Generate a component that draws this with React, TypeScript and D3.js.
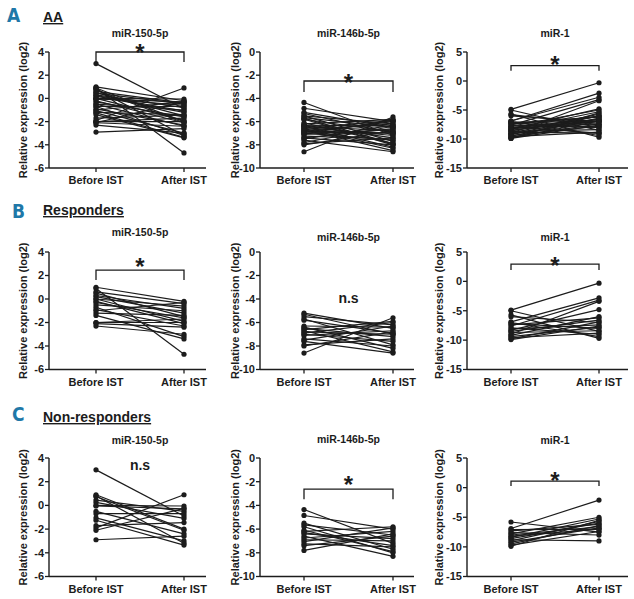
import React from "react";
import * as d3 from "d3";

const panelLetters = ["A", "B", "C"];
const groupNames = ["AA", "Responders", "Non-responders"];
const mirnaNames = ["miR-150-5p", "miR-146b-5p", "miR-1"];
const timepoints = ["Before IST", "After IST"];
const yAxisLabel = "Relative expression (log2)";

const ticks150 = [4, 2, 0, -2, -4, -6];
const ticks146b = [0, -2, -4, -6, -8, -10];
const ticksMir1 = [5, 0, -5, -10, -15];

// Responders
const resp150Before = [1.0, 0.9, 0.6, 0.5, 0.3, 0.2, 0.0, 0.0, -0.2, -0.3, -0.5, -0.7, -0.9, -1.0, -1.2, -1.4, -2.0, -2.0, -2.1, -2.3];
const resp150After = [-0.2, -4.7, -0.4, -1.5, -0.8, -1.2, -1.9, -0.6, -2.1, -1.6, -1.0, -3.2, -2.3, -0.3, -1.4, -3.4, -2.0, -1.7, -2.4, -3.0];
const resp146bBefore = [-5.2, -5.3, -5.5, -5.7, -5.8, -6.3, -6.4, -6.5, -6.6, -6.7, -6.9, -7.0, -7.1, -7.4, -7.5, -7.6, -7.9, -8.0, -8.6, -6.8];
const resp146bAfter = [-6.5, -7.0, -6.2, -7.9, -6.9, -6.4, -8.2, -7.2, -5.9, -8.5, -6.0, -7.6, -6.7, -8.0, -6.3, -8.6, -7.4, -6.8, -5.6, -7.0];
const respMir1Before = [-4.9, -5.0, -5.7, -6.0, -6.9, -7.2, -7.4, -7.6, -7.9, -8.1, -8.3, -8.5, -8.7, -9.0, -9.2, -9.4, -9.6, -9.8, -9.9, -7.0];
const respMir1After = [-0.3, -8.5, -9.7, -7.0, -2.8, -8.0, -6.2, -3.2, -9.0, -7.4, -4.8, -6.6, -8.4, -3.4, -6.0, -7.8, -8.8, -6.9, -7.6, -9.4];

// Non-responders
const nonresp150Before = [3.0, 0.9, 0.8, 0.75, 0.45, 0.25, 0.0, -0.05, -0.5, -0.7, -1.05, -1.25, -1.7, -1.9, -2.1, -2.9];
const nonresp150After = [-0.9, -2.0, -3.2, -2.1, -0.5, -1.1, -0.05, -0.3, -2.4, -0.7, -3.0, -3.35, -1.45, 0.9, -0.25, -2.6];
const nonresp146bBefore = [-4.35, -4.85, -5.5, -5.65, -5.8, -6.2, -6.3, -6.4, -6.6, -6.75, -6.9, -7.05, -7.25, -7.4, -7.8, -6.1];
const nonresp146bAfter = [-7.2, -6.0, -7.7, -6.5, -8.0, -5.8, -7.4, -6.8, -8.3, -6.2, -7.0, -5.9, -7.5, -6.6, -6.4, -7.9];
const nonrespMir1Before = [-5.8, -6.9, -7.3, -7.6, -7.8, -8.0, -8.2, -8.4, -8.6, -8.8, -9.0, -9.2, -9.5, -9.7, -9.9, -7.1];
const nonrespMir1After = [-7.5, -2.1, -6.2, -8.0, -5.0, -6.6, -7.0, -5.3, -6.0, -9.0, -5.7, -6.8, -6.4, -7.4, -5.5, -7.0];

const sigLabels = [
  ["*", "*", "*"],
  ["*", "n.s", "*"],
  ["n.s", "*", "*"],
];
// bracket level (or n.s centre) in data units
const sigLevels = [
  [4.0, -2.5, 2.64],
  [2.46, -3.9, 2.95],
  [3.4, -2.63, 1.1],
];

const yDomains: [number, number][] = [[-6, 4], [-10, 0], [-15, 5]];
const yTicks = [ticks150, ticks146b, ticksMir1];

const groupData = [
  [
    [resp150Before.concat(nonresp150Before), resp150After.concat(nonresp150After)],
    [resp146bBefore.concat(nonresp146bBefore), resp146bAfter.concat(nonresp146bAfter)],
    [respMir1Before.concat(nonrespMir1Before), respMir1After.concat(nonrespMir1After)],
  ],
  [
    [resp150Before, resp150After],
    [resp146bBefore, resp146bAfter],
    [respMir1Before, respMir1After],
  ],
  [
    [nonresp150Before, nonresp150After],
    [nonresp146bBefore, nonresp146bAfter],
    [nonrespMir1Before, nonrespMir1After],
  ],
];

// layout
const ROWS = [
  { top: 52, bottom: 168, letterX: 7, letterY: 22, headY: 22 },
  { top: 252, bottom: 369.5, letterX: 12, letterY: 218, headY: 215 },
  { top: 458, bottom: 576.5, letterX: 12, letterY: 421, headY: 422 },
];
const COLS = [
  { axis: 49, before: 96, after: 184, right: 206, labelX: 23 },
  { axis: 260, before: 304, after: 393, right: 414, labelX: 235 },
  { axis: 467, before: 511, after: 599, right: 628, labelX: 439 },
];
const TITLE_Y = [
  [33, 33, 33],
  [232, 237, 237],
  [440, 439, 440],
];
const STAR_OFFSET = [
  [4.5, 4, 6],
  [9, 0, 4],
  [0, 10, 6],
];
const BRACKET_DROP = [
  [10, 11, 5],
  [10, 0, 6],
  [0, 10, 5],
];

const FONT = "'Liberation Sans', Arial, Helvetica, sans-serif";
const INK = "#1c1c1c";

function Panel({ r, c }: { r: number; c: number }) {
  const row = ROWS[r];
  const col = COLS[c];
  const y = d3.scaleLinear().domain(yDomains[c]).range([row.bottom, row.top]);
  const x = d3.scalePoint<string>().domain(timepoints).range([col.before, col.after]);
  const [before, after] = groupData[r][c];
  const pairs = before.map((b, i) => [b, after[i]]);
  const line = d3
    .line<[string, number]>()
    .x((d) => x(d[0]) as number)
    .y((d) => y(d[1]));
  const sig = sigLabels[r][c];
  const lvl = sigLevels[r][c];
  const xb = x(timepoints[0]) as number;
  const xa = x(timepoints[1]) as number;
  const xm = (xb + xa) / 2;
  return (
    <g>
      <text x={xm} y={TITLE_Y[r][c]} dy="0.35em" textAnchor="middle" fontSize={10.5} fontWeight="bold" fill={INK} fontFamily={FONT}>
        {mirnaNames[c]}
      </text>
      <text
        transform={`translate(${col.labelX},${(row.top + row.bottom) / 2}) rotate(-90)`}
        textAnchor="middle"
        dy="0.35em"
        fontSize={11}
        fontWeight="bold"
        fill={INK}
        fontFamily={FONT}
      >
        {yAxisLabel}
      </text>
      {/* y axis */}
      <line x1={col.axis} x2={col.axis} y1={row.top} y2={row.bottom} stroke={INK} strokeWidth={1.4} />
      {yTicks[c].map((t) => (
        <g key={t}>
          <line x1={col.axis - 4} x2={col.axis} y1={y(t)} y2={y(t)} stroke={INK} strokeWidth={1.3} />
          <text x={col.axis - 5} y={y(t)} dy="0.36em" textAnchor="end" fontSize={11} fontWeight="bold" fill={INK} fontFamily={FONT}>
            {t}
          </text>
        </g>
      ))}
      {/* x axis */}
      <line x1={col.axis} x2={col.right} y1={row.bottom} y2={row.bottom} stroke={INK} strokeWidth={1.4} />
      {timepoints.map((tp) => (
        <g key={tp}>
          <line x1={x(tp)} x2={x(tp)} y1={row.bottom} y2={row.bottom + 4} stroke={INK} strokeWidth={1.3} />
          <text x={x(tp)} y={row.bottom + 16} textAnchor="middle" fontSize={11} fontWeight="bold" fill={INK} fontFamily={FONT}>
            {tp}
          </text>
        </g>
      ))}
      {/* pair lines */}
      {pairs.map((p, i) => (
        <path
          key={"l" + i}
          d={line([[timepoints[0], p[0]], [timepoints[1], p[1]]]) as string}
          stroke={INK}
          strokeWidth={1.2}
          fill="none"
        />
      ))}
      {pairs.map((p, i) => (
        <g key={"p" + i}>
          <circle cx={xb} cy={y(p[0])} r={2.6} fill={INK} />
          <circle cx={xa} cy={y(p[1])} r={2.6} fill={INK} />
        </g>
      ))}
      {/* significance */}
      {sig === "*" ? (
        <g>
          <path
            d={`M${xb},${y(lvl) + BRACKET_DROP[r][c]}V${y(lvl)}H${xa}V${y(lvl) + BRACKET_DROP[r][c]}`}
            stroke={INK}
            strokeWidth={1.3}
            fill="none"
          />
          <text
            x={xm}
            y={y(lvl) - STAR_OFFSET[r][c] + 13.7}
            textAnchor="middle"
            fontSize={24}
            fontWeight="bold"
            fill={INK}
            fontFamily={FONT}
          >
            *
          </text>
        </g>
      ) : (
        <text x={xm} y={y(lvl)} dy="0.35em" textAnchor="middle" fontSize={14} fontWeight="bold" fill={INK} fontFamily={FONT}>
          {sig}
        </text>
      )}
    </g>
  );
}

export default function App() {
  return (
    <svg
      width={634}
      height={599}
      style={{ position: "absolute", left: 0, top: 0, background: "#fff" }}
    >
      {ROWS.map((row, r) => (
        <g key={r}>
          <text
            x={row.letterX}
            y={row.letterY}
            fontSize={19}
            fontWeight="bold"
            fill="#1f78a8"
            fontFamily="'Liberation Sans Narrow', 'DejaVu Sans Condensed', 'Arial Narrow', sans-serif"
          >
            {panelLetters[r]}
          </text>
          <text
            x={43}
            y={row.headY}
            fontSize={14}
            fontWeight="bold"
            fill={INK}
            fontFamily={FONT}
            textDecoration="underline"
          >
            {groupNames[r]}
          </text>
          {COLS.map((_, c) => (
            <Panel key={c} r={r} c={c} />
          ))}
        </g>
      ))}
    </svg>
  );
}
